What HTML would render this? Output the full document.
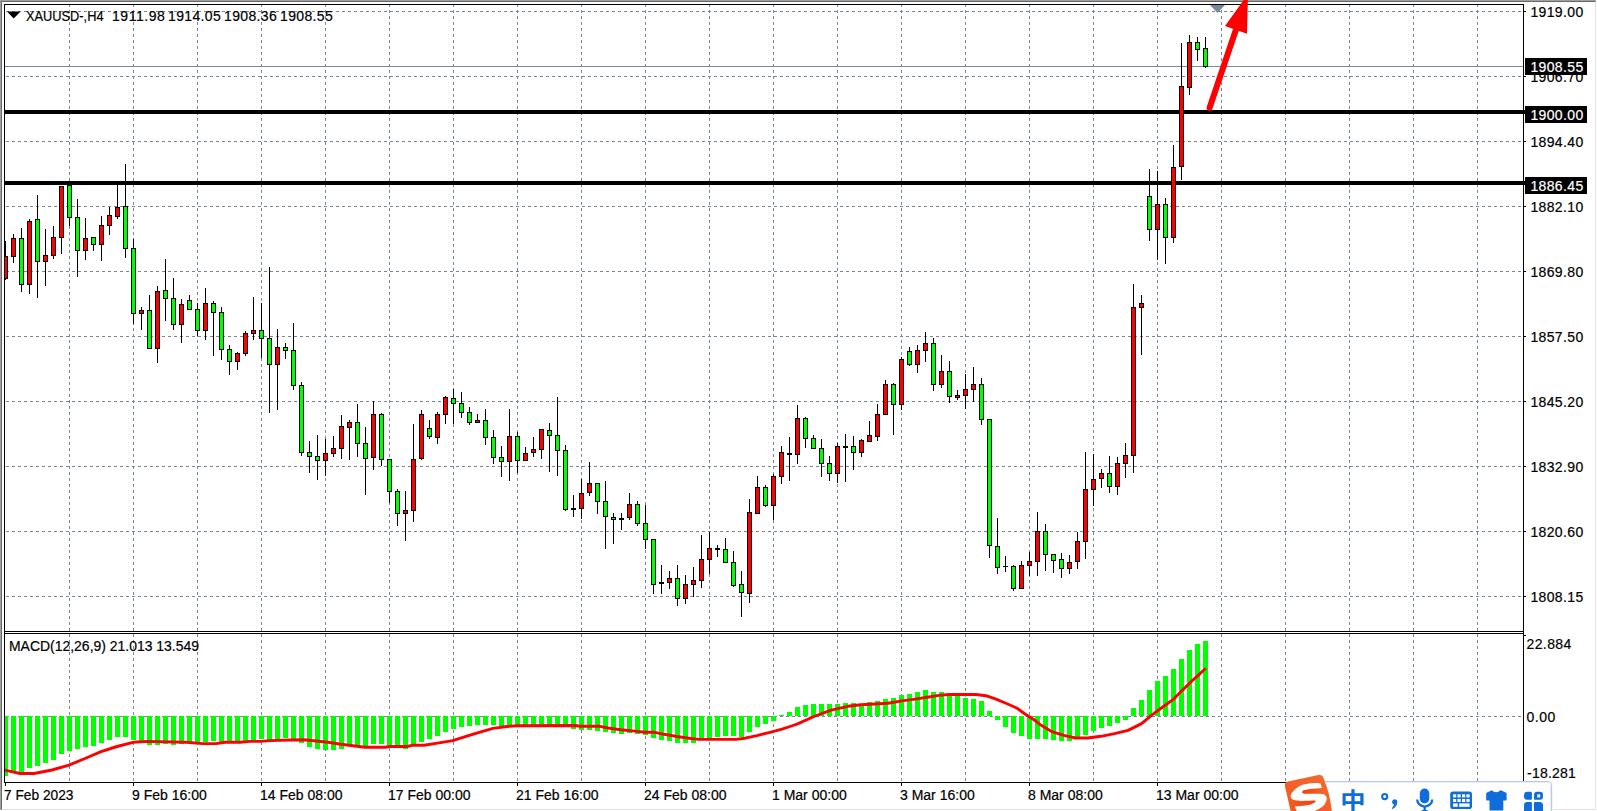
<!DOCTYPE html>
<html lang="en"><head><meta charset="utf-8"><title>XAUUSD-,H4</title>
<style>html,body{margin:0;padding:0;background:#fff}body{width:1597px;height:811px;overflow:hidden}svg{display:block}text{font-family:"Liberation Sans",Arial,sans-serif;font-size:14px}</style>
</head><body>
<svg width="1597" height="811" viewBox="0 0 1597 811">
<rect x="0" y="0" width="1597" height="811" fill="#ffffff"/>
<g shape-rendering="crispEdges">
<rect x="0" y="0" width="1596" height="1" fill="#a0a0a0"/>
<rect x="0" y="0" width="1" height="810" fill="#a0a0a0"/>
<rect x="1" y="1" width="1594" height="1" fill="#696969"/>
<rect x="1" y="1" width="1" height="808" fill="#696969"/>
<rect x="1" y="809" width="1" height="1" fill="#a0a0a0"/>
<rect x="1595" y="1" width="1" height="1" fill="#a0a0a0"/>
<rect x="1595" y="2" width="1" height="808" fill="#e3e3e3"/>
<rect x="2" y="809" width="1594" height="1" fill="#e3e3e3"/>
<g stroke="#778899" stroke-width="1" stroke-dasharray="3 3" fill="none">
<path d="M69.5 4V631M69.5 634V782"/>
<path d="M133.5 4V631M133.5 634V782"/>
<path d="M197.5 4V631M197.5 634V782"/>
<path d="M261.5 4V631M261.5 634V782"/>
<path d="M325.5 4V631M325.5 634V782"/>
<path d="M389.5 4V631M389.5 634V782"/>
<path d="M453.5 4V631M453.5 634V782"/>
<path d="M517.5 4V631M517.5 634V782"/>
<path d="M581.5 4V631M581.5 634V782"/>
<path d="M645.5 4V631M645.5 634V782"/>
<path d="M709.5 4V631M709.5 634V782"/>
<path d="M773.5 4V631M773.5 634V782"/>
<path d="M837.5 4V631M837.5 634V782"/>
<path d="M901.5 4V631M901.5 634V782"/>
<path d="M965.5 4V631M965.5 634V782"/>
<path d="M1029.5 4V631M1029.5 634V782"/>
<path d="M1093.5 4V631M1093.5 634V782"/>
<path d="M1157.5 4V631M1157.5 634V782"/>
<path d="M1221.5 4V631M1221.5 634V782"/>
<path d="M1285.5 4V631M1285.5 634V782"/>
<path d="M1349.5 4V631M1349.5 634V782"/>
<path d="M1413.5 4V631M1413.5 634V782"/>
<path d="M1477.5 4V631M1477.5 634V782"/>
<path d="M6 11.5H1523"/>
<path d="M6 76.5H1523"/>
<path d="M6 141.5H1523"/>
<path d="M6 206.5H1523"/>
<path d="M6 271.5H1523"/>
<path d="M6 336.5H1523"/>
<path d="M6 401.5H1523"/>
<path d="M6 466.5H1523"/>
<path d="M6 531.5H1523"/>
<path d="M6 596.5H1523"/>
<path d="M6 716.5H1523"/>
</g>
<rect x="5" y="66" width="1518" height="1" fill="#778899"/>
<rect x="5" y="110" width="1520" height="4" fill="#000"/>
<rect x="5" y="181" width="1520" height="4" fill="#000"/>
<g fill="#00ff00">
<rect x="3" y="716" width="5" height="60"/>
<rect x="11" y="716" width="5" height="56"/>
<rect x="19" y="716" width="5" height="57"/>
<rect x="27" y="716" width="5" height="52"/>
<rect x="35" y="716" width="5" height="50"/>
<rect x="43" y="716" width="5" height="47"/>
<rect x="51" y="716" width="5" height="44"/>
<rect x="59" y="716" width="5" height="38"/>
<rect x="67" y="716" width="5" height="35"/>
<rect x="75" y="716" width="5" height="33"/>
<rect x="83" y="716" width="5" height="31"/>
<rect x="91" y="716" width="5" height="30"/>
<rect x="99" y="716" width="5" height="27"/>
<rect x="107" y="716" width="5" height="24"/>
<rect x="115" y="716" width="5" height="21"/>
<rect x="123" y="716" width="5" height="21"/>
<rect x="131" y="716" width="5" height="24"/>
<rect x="139" y="716" width="5" height="26"/>
<rect x="147" y="716" width="5" height="29"/>
<rect x="155" y="716" width="5" height="29"/>
<rect x="163" y="716" width="5" height="28"/>
<rect x="171" y="716" width="5" height="29"/>
<rect x="179" y="716" width="5" height="28"/>
<rect x="187" y="716" width="5" height="26"/>
<rect x="195" y="716" width="5" height="26"/>
<rect x="203" y="716" width="5" height="26"/>
<rect x="211" y="716" width="5" height="25"/>
<rect x="219" y="716" width="5" height="26"/>
<rect x="227" y="716" width="5" height="25"/>
<rect x="235" y="716" width="5" height="25"/>
<rect x="243" y="716" width="5" height="25"/>
<rect x="251" y="716" width="5" height="25"/>
<rect x="259" y="716" width="5" height="23"/>
<rect x="267" y="716" width="5" height="24"/>
<rect x="275" y="716" width="5" height="23"/>
<rect x="283" y="716" width="5" height="22"/>
<rect x="291" y="716" width="5" height="23"/>
<rect x="299" y="716" width="5" height="27"/>
<rect x="307" y="716" width="5" height="31"/>
<rect x="315" y="716" width="5" height="33"/>
<rect x="323" y="716" width="5" height="34"/>
<rect x="331" y="716" width="5" height="34"/>
<rect x="339" y="716" width="5" height="33"/>
<rect x="347" y="716" width="5" height="30"/>
<rect x="355" y="716" width="5" height="31"/>
<rect x="363" y="716" width="5" height="31"/>
<rect x="371" y="716" width="5" height="28"/>
<rect x="379" y="716" width="5" height="28"/>
<rect x="387" y="716" width="5" height="31"/>
<rect x="395" y="716" width="5" height="31"/>
<rect x="403" y="716" width="5" height="33"/>
<rect x="411" y="716" width="5" height="30"/>
<rect x="419" y="716" width="5" height="26"/>
<rect x="427" y="716" width="5" height="23"/>
<rect x="435" y="716" width="5" height="20"/>
<rect x="443" y="716" width="5" height="16"/>
<rect x="451" y="716" width="5" height="13"/>
<rect x="459" y="716" width="5" height="11"/>
<rect x="467" y="716" width="5" height="10"/>
<rect x="475" y="716" width="5" height="9"/>
<rect x="483" y="716" width="5" height="9"/>
<rect x="491" y="716" width="5" height="9"/>
<rect x="499" y="716" width="5" height="10"/>
<rect x="507" y="716" width="5" height="9"/>
<rect x="515" y="716" width="5" height="9"/>
<rect x="523" y="716" width="5" height="9"/>
<rect x="531" y="716" width="5" height="9"/>
<rect x="539" y="716" width="5" height="9"/>
<rect x="547" y="716" width="5" height="9"/>
<rect x="555" y="716" width="5" height="9"/>
<rect x="563" y="716" width="5" height="9"/>
<rect x="571" y="716" width="5" height="13"/>
<rect x="579" y="716" width="5" height="14"/>
<rect x="587" y="716" width="5" height="14"/>
<rect x="595" y="716" width="5" height="15"/>
<rect x="603" y="716" width="5" height="16"/>
<rect x="611" y="716" width="5" height="17"/>
<rect x="619" y="716" width="5" height="18"/>
<rect x="627" y="716" width="5" height="17"/>
<rect x="635" y="716" width="5" height="18"/>
<rect x="643" y="716" width="5" height="19"/>
<rect x="651" y="716" width="5" height="22"/>
<rect x="659" y="716" width="5" height="24"/>
<rect x="667" y="716" width="5" height="25"/>
<rect x="675" y="716" width="5" height="27"/>
<rect x="683" y="716" width="5" height="27"/>
<rect x="691" y="716" width="5" height="27"/>
<rect x="699" y="716" width="5" height="23"/>
<rect x="707" y="716" width="5" height="22"/>
<rect x="715" y="716" width="5" height="21"/>
<rect x="723" y="716" width="5" height="20"/>
<rect x="731" y="716" width="5" height="20"/>
<rect x="739" y="716" width="5" height="21"/>
<rect x="747" y="716" width="5" height="16"/>
<rect x="755" y="716" width="5" height="11"/>
<rect x="763" y="716" width="5" height="8"/>
<rect x="771" y="716" width="5" height="5"/>
<rect x="779" y="715" width="5" height="1"/>
<rect x="787" y="712" width="5" height="4"/>
<rect x="795" y="707" width="5" height="9"/>
<rect x="803" y="705" width="5" height="11"/>
<rect x="811" y="704" width="5" height="12"/>
<rect x="819" y="704" width="5" height="12"/>
<rect x="827" y="704" width="5" height="12"/>
<rect x="835" y="704" width="5" height="12"/>
<rect x="843" y="703" width="5" height="13"/>
<rect x="851" y="703" width="5" height="13"/>
<rect x="859" y="704" width="5" height="12"/>
<rect x="867" y="702" width="5" height="14"/>
<rect x="875" y="701" width="5" height="15"/>
<rect x="883" y="699" width="5" height="17"/>
<rect x="891" y="698" width="5" height="18"/>
<rect x="899" y="695" width="5" height="21"/>
<rect x="907" y="694" width="5" height="22"/>
<rect x="915" y="692" width="5" height="24"/>
<rect x="923" y="690" width="5" height="26"/>
<rect x="931" y="692" width="5" height="24"/>
<rect x="939" y="692" width="5" height="24"/>
<rect x="947" y="694" width="5" height="22"/>
<rect x="955" y="695" width="5" height="21"/>
<rect x="963" y="698" width="5" height="18"/>
<rect x="971" y="699" width="5" height="17"/>
<rect x="979" y="701" width="5" height="15"/>
<rect x="987" y="711" width="5" height="5"/>
<rect x="995" y="716" width="5" height="4"/>
<rect x="1003" y="716" width="5" height="11"/>
<rect x="1011" y="716" width="5" height="17"/>
<rect x="1019" y="716" width="5" height="20"/>
<rect x="1027" y="716" width="5" height="23"/>
<rect x="1035" y="716" width="5" height="23"/>
<rect x="1043" y="716" width="5" height="23"/>
<rect x="1051" y="716" width="5" height="24"/>
<rect x="1059" y="716" width="5" height="25"/>
<rect x="1067" y="716" width="5" height="25"/>
<rect x="1075" y="716" width="5" height="22"/>
<rect x="1083" y="716" width="5" height="19"/>
<rect x="1091" y="716" width="5" height="15"/>
<rect x="1099" y="716" width="5" height="12"/>
<rect x="1107" y="716" width="5" height="10"/>
<rect x="1115" y="716" width="5" height="7"/>
<rect x="1123" y="716" width="5" height="4"/>
<rect x="1131" y="708" width="5" height="8"/>
<rect x="1139" y="700" width="5" height="16"/>
<rect x="1147" y="690" width="5" height="26"/>
<rect x="1155" y="681" width="5" height="35"/>
<rect x="1163" y="676" width="5" height="40"/>
<rect x="1171" y="669" width="5" height="47"/>
<rect x="1179" y="659" width="5" height="57"/>
<rect x="1187" y="650" width="5" height="66"/>
<rect x="1195" y="644" width="5" height="72"/>
<rect x="1203" y="641" width="5" height="75"/>
</g>
<path d="M5.5 241V280M13.5 234V263M21.5 228V292M29.5 219V294M37.5 195V298M45.5 229V286M53.5 226V259M61.5 186V254M69.5 185V226M77.5 199V277M85.5 218V260M93.5 237V251M101.5 216V261M109.5 207V235M117.5 182V219M125.5 164V258M133.5 239V324M141.5 307V330M149.5 295V349M157.5 286V363M165.5 259V321M173.5 278V330M181.5 299V343M189.5 295V310M197.5 303V336M205.5 288V340M213.5 301V356M221.5 307V360M229.5 345V375M237.5 352V370M245.5 331V356M253.5 297V340M261.5 303V358M269.5 267V413M277.5 329V410M285.5 343V359M293.5 323V390M301.5 382V456M309.5 441V473M317.5 435V480M325.5 439V476M333.5 436V457M341.5 415V459M349.5 420V460M357.5 404V457M365.5 427V495M373.5 401V470M381.5 413V466M389.5 460V503M397.5 489V526M405.5 491V541M413.5 424V522M421.5 410V460M429.5 420V439M437.5 412V444M445.5 396V424M453.5 389V424M461.5 392V418M469.5 407V425M477.5 414V423M485.5 409V445M493.5 430V464M501.5 446V477M509.5 409V481M517.5 432V473M525.5 447V461M533.5 437V457M541.5 430V459M549.5 423V472M557.5 397V476M565.5 445V511M573.5 495V517M581.5 479V519M589.5 462V496M597.5 484V514M605.5 481V549M613.5 513V544M621.5 513V530M629.5 493V520M637.5 501V526M645.5 505V549M653.5 540V594M661.5 565V594M669.5 571V589M677.5 565V606M685.5 575V604M693.5 567V597M701.5 535V588M709.5 532V574M717.5 545V557M725.5 538V562M733.5 551V587M741.5 571V617M749.5 499V603M757.5 476V513M765.5 485V507M773.5 474V520M781.5 446V484M789.5 437V481M797.5 405V464M805.5 417V448M813.5 435V449M821.5 439V477M829.5 456V481M837.5 443V483M845.5 434V482M853.5 436V470M861.5 439V457M869.5 421V442M877.5 404V441M885.5 380V415M893.5 383V435M901.5 357V410M909.5 347V366M917.5 345V373M925.5 332V362M933.5 338V391M941.5 355V388M949.5 361V403M957.5 390V400M965.5 374V409M973.5 367V402M981.5 378V425M989.5 419V558M997.5 518V574M1005.5 556V572M1013.5 565V591M1021.5 561V589M1029.5 552V576M1037.5 512V576M1045.5 524V571M1053.5 555V573M1061.5 553V578M1069.5 555V574M1077.5 532V569M1085.5 452V559M1093.5 454V506M1101.5 469V488M1109.5 456V493M1117.5 457V495M1125.5 443V478M1133.5 284V473M1141.5 295V355M1149.5 169V241M1157.5 171V260M1165.5 198V264M1173.5 145V243M1181.5 43V180M1189.5 35V95M1197.5 37V61M1205.5 37V68" stroke="#000" stroke-width="1" fill="none"/>
<g fill="#000"><rect x="3" y="256" width="5" height="23"/><rect x="11" y="238" width="5" height="19"/><rect x="19" y="238" width="5" height="47"/><rect x="27" y="221" width="5" height="64"/><rect x="35" y="219" width="5" height="43"/><rect x="43" y="255" width="5" height="7"/><rect x="51" y="237" width="5" height="19"/><rect x="59" y="186" width="5" height="52"/><rect x="67" y="185" width="5" height="33"/><rect x="75" y="217" width="5" height="34"/><rect x="83" y="238" width="5" height="13"/><rect x="91" y="237" width="5" height="8"/><rect x="99" y="225" width="5" height="20"/><rect x="107" y="215" width="5" height="11"/><rect x="115" y="207" width="5" height="10"/><rect x="123" y="206" width="5" height="43"/><rect x="131" y="248" width="5" height="66"/><rect x="139" y="310" width="5" height="4"/><rect x="147" y="310" width="5" height="39"/><rect x="155" y="291" width="5" height="58"/><rect x="163" y="290" width="5" height="9"/><rect x="171" y="298" width="5" height="27"/><rect x="179" y="304" width="5" height="21"/><rect x="187" y="300" width="5" height="10"/><rect x="195" y="309" width="5" height="22"/><rect x="203" y="303" width="5" height="28"/><rect x="211" y="303" width="5" height="10"/><rect x="219" y="312" width="5" height="38"/><rect x="227" y="349" width="5" height="13"/><rect x="235" y="353" width="5" height="9"/><rect x="243" y="333" width="5" height="21"/><rect x="251" y="330" width="5" height="4"/><rect x="259" y="330" width="5" height="9"/><rect x="267" y="338" width="5" height="27"/><rect x="275" y="347" width="5" height="18"/><rect x="283" y="347" width="5" height="4"/><rect x="291" y="350" width="5" height="36"/><rect x="299" y="385" width="5" height="68"/><rect x="307" y="452" width="5" height="5"/><rect x="315" y="456" width="5" height="5"/><rect x="323" y="453" width="5" height="8"/><rect x="331" y="448" width="5" height="6"/><rect x="339" y="426" width="5" height="23"/><rect x="347" y="422" width="5" height="6"/><rect x="355" y="422" width="5" height="22"/><rect x="363" y="443" width="5" height="16"/><rect x="371" y="414" width="5" height="44"/><rect x="379" y="414" width="5" height="46"/><rect x="387" y="459" width="5" height="33"/><rect x="395" y="491" width="5" height="23"/><rect x="403" y="510" width="5" height="4"/><rect x="411" y="459" width="5" height="52"/><rect x="419" y="414" width="5" height="45"/><rect x="427" y="428" width="5" height="9"/><rect x="435" y="414" width="5" height="24"/><rect x="443" y="397" width="5" height="18"/><rect x="451" y="398" width="5" height="6"/><rect x="459" y="403" width="5" height="10"/><rect x="467" y="412" width="5" height="11"/><rect x="475" y="420" width="5" height="3"/><rect x="483" y="420" width="5" height="18"/><rect x="491" y="437" width="5" height="21"/><rect x="499" y="457" width="5" height="5"/><rect x="507" y="436" width="5" height="26"/><rect x="515" y="436" width="5" height="25"/><rect x="523" y="453" width="5" height="8"/><rect x="531" y="449" width="5" height="4"/><rect x="539" y="429" width="5" height="21"/><rect x="547" y="430" width="5" height="6"/><rect x="555" y="435" width="5" height="16"/><rect x="563" y="450" width="5" height="60"/><rect x="571" y="508" width="5" height="2"/><rect x="579" y="493" width="5" height="16"/><rect x="587" y="483" width="5" height="10"/><rect x="595" y="483" width="5" height="19"/><rect x="603" y="501" width="5" height="16"/><rect x="611" y="517" width="5" height="3"/><rect x="619" y="518" width="5" height="2"/><rect x="627" y="504" width="5" height="14"/><rect x="635" y="504" width="5" height="20"/><rect x="643" y="523" width="5" height="17"/><rect x="651" y="539" width="5" height="46"/><rect x="659" y="582" width="5" height="2"/><rect x="667" y="578" width="5" height="5"/><rect x="675" y="578" width="5" height="21"/><rect x="683" y="584" width="5" height="15"/><rect x="691" y="580" width="5" height="5"/><rect x="699" y="559" width="5" height="22"/><rect x="707" y="548" width="5" height="12"/><rect x="715" y="548" width="5" height="2"/><rect x="723" y="549" width="5" height="14"/><rect x="731" y="562" width="5" height="24"/><rect x="739" y="584" width="5" height="9"/><rect x="747" y="512" width="5" height="82"/><rect x="755" y="487" width="5" height="27"/><rect x="763" y="487" width="5" height="19"/><rect x="771" y="476" width="5" height="30"/><rect x="779" y="452" width="5" height="25"/><rect x="787" y="453" width="5" height="2"/><rect x="795" y="418" width="5" height="37"/><rect x="803" y="418" width="5" height="21"/><rect x="811" y="438" width="5" height="11"/><rect x="819" y="448" width="5" height="16"/><rect x="827" y="463" width="5" height="11"/><rect x="835" y="446" width="5" height="28"/><rect x="843" y="446" width="5" height="2"/><rect x="851" y="446" width="5" height="7"/><rect x="859" y="440" width="5" height="13"/><rect x="867" y="435" width="5" height="7"/><rect x="875" y="414" width="5" height="23"/><rect x="883" y="384" width="5" height="31"/><rect x="891" y="384" width="5" height="21"/><rect x="899" y="359" width="5" height="46"/><rect x="907" y="351" width="5" height="14"/><rect x="915" y="350" width="5" height="15"/><rect x="923" y="343" width="5" height="8"/><rect x="931" y="343" width="5" height="42"/><rect x="939" y="371" width="5" height="14"/><rect x="947" y="371" width="5" height="26"/><rect x="955" y="395" width="5" height="3"/><rect x="963" y="389" width="5" height="7"/><rect x="971" y="384" width="5" height="6"/><rect x="979" y="384" width="5" height="36"/><rect x="987" y="419" width="5" height="127"/><rect x="995" y="546" width="5" height="22"/><rect x="1003" y="566" width="5" height="1"/><rect x="1011" y="566" width="5" height="23"/><rect x="1019" y="565" width="5" height="24"/><rect x="1027" y="561" width="5" height="5"/><rect x="1035" y="531" width="5" height="31"/><rect x="1043" y="531" width="5" height="24"/><rect x="1051" y="554" width="5" height="7"/><rect x="1059" y="559" width="5" height="10"/><rect x="1067" y="562" width="5" height="7"/><rect x="1075" y="541" width="5" height="21"/><rect x="1083" y="489" width="5" height="53"/><rect x="1091" y="479" width="5" height="11"/><rect x="1099" y="473" width="5" height="6"/><rect x="1107" y="473" width="5" height="14"/><rect x="1115" y="463" width="5" height="24"/><rect x="1123" y="455" width="5" height="9"/><rect x="1131" y="307" width="5" height="149"/><rect x="1139" y="303" width="5" height="5"/><rect x="1147" y="196" width="5" height="34"/><rect x="1155" y="204" width="5" height="26"/><rect x="1163" y="204" width="5" height="34"/><rect x="1171" y="167" width="5" height="71"/><rect x="1179" y="86" width="5" height="81"/><rect x="1187" y="42" width="5" height="46"/><rect x="1195" y="42" width="5" height="8"/><rect x="1203" y="48" width="5" height="19"/></g>
<g fill="#ff0000"><rect x="4" y="257" width="3" height="21"/><rect x="12" y="239" width="3" height="17"/><rect x="28" y="222" width="3" height="62"/><rect x="44" y="256" width="3" height="5"/><rect x="52" y="238" width="3" height="17"/><rect x="60" y="187" width="3" height="50"/><rect x="84" y="239" width="3" height="11"/><rect x="100" y="226" width="3" height="18"/><rect x="108" y="216" width="3" height="9"/><rect x="116" y="208" width="3" height="8"/><rect x="140" y="311" width="3" height="2"/><rect x="156" y="292" width="3" height="56"/><rect x="180" y="305" width="3" height="19"/><rect x="204" y="304" width="3" height="26"/><rect x="236" y="354" width="3" height="7"/><rect x="244" y="334" width="3" height="19"/><rect x="252" y="331" width="3" height="2"/><rect x="276" y="348" width="3" height="16"/><rect x="324" y="454" width="3" height="6"/><rect x="332" y="449" width="3" height="4"/><rect x="340" y="427" width="3" height="21"/><rect x="348" y="423" width="3" height="4"/><rect x="372" y="415" width="3" height="42"/><rect x="404" y="511" width="3" height="2"/><rect x="412" y="460" width="3" height="50"/><rect x="420" y="415" width="3" height="43"/><rect x="436" y="415" width="3" height="22"/><rect x="444" y="398" width="3" height="16"/><rect x="476" y="421" width="3" height="1"/><rect x="508" y="437" width="3" height="24"/><rect x="524" y="454" width="3" height="6"/><rect x="532" y="450" width="3" height="2"/><rect x="540" y="430" width="3" height="19"/><rect x="580" y="494" width="3" height="14"/><rect x="588" y="484" width="3" height="8"/><rect x="628" y="505" width="3" height="12"/><rect x="668" y="579" width="3" height="3"/><rect x="684" y="585" width="3" height="13"/><rect x="692" y="581" width="3" height="3"/><rect x="700" y="560" width="3" height="20"/><rect x="708" y="549" width="3" height="10"/><rect x="748" y="513" width="3" height="80"/><rect x="756" y="488" width="3" height="25"/><rect x="772" y="477" width="3" height="28"/><rect x="780" y="453" width="3" height="23"/><rect x="796" y="419" width="3" height="35"/><rect x="836" y="447" width="3" height="26"/><rect x="860" y="441" width="3" height="11"/><rect x="868" y="436" width="3" height="5"/><rect x="876" y="415" width="3" height="21"/><rect x="884" y="385" width="3" height="29"/><rect x="900" y="360" width="3" height="44"/><rect x="916" y="351" width="3" height="13"/><rect x="924" y="344" width="3" height="6"/><rect x="940" y="372" width="3" height="12"/><rect x="956" y="396" width="3" height="1"/><rect x="964" y="390" width="3" height="5"/><rect x="972" y="385" width="3" height="4"/><rect x="1020" y="566" width="3" height="22"/><rect x="1028" y="562" width="3" height="3"/><rect x="1036" y="532" width="3" height="29"/><rect x="1068" y="563" width="3" height="5"/><rect x="1076" y="542" width="3" height="19"/><rect x="1084" y="490" width="3" height="51"/><rect x="1092" y="480" width="3" height="9"/><rect x="1100" y="474" width="3" height="4"/><rect x="1116" y="464" width="3" height="22"/><rect x="1124" y="456" width="3" height="7"/><rect x="1132" y="308" width="3" height="147"/><rect x="1140" y="304" width="3" height="3"/><rect x="1156" y="205" width="3" height="24"/><rect x="1172" y="168" width="3" height="69"/><rect x="1180" y="87" width="3" height="79"/><rect x="1188" y="43" width="3" height="44"/></g>
<g fill="#00ff00"><rect x="20" y="239" width="3" height="45"/><rect x="36" y="220" width="3" height="41"/><rect x="68" y="186" width="3" height="31"/><rect x="76" y="218" width="3" height="32"/><rect x="92" y="238" width="3" height="6"/><rect x="124" y="207" width="3" height="41"/><rect x="132" y="249" width="3" height="64"/><rect x="148" y="311" width="3" height="37"/><rect x="164" y="291" width="3" height="7"/><rect x="172" y="299" width="3" height="25"/><rect x="188" y="301" width="3" height="8"/><rect x="196" y="310" width="3" height="20"/><rect x="212" y="304" width="3" height="8"/><rect x="220" y="313" width="3" height="36"/><rect x="228" y="350" width="3" height="11"/><rect x="260" y="331" width="3" height="7"/><rect x="268" y="339" width="3" height="25"/><rect x="284" y="348" width="3" height="2"/><rect x="292" y="351" width="3" height="34"/><rect x="300" y="386" width="3" height="66"/><rect x="308" y="453" width="3" height="3"/><rect x="316" y="457" width="3" height="3"/><rect x="356" y="423" width="3" height="20"/><rect x="364" y="444" width="3" height="14"/><rect x="380" y="415" width="3" height="44"/><rect x="388" y="460" width="3" height="31"/><rect x="396" y="492" width="3" height="21"/><rect x="428" y="429" width="3" height="7"/><rect x="452" y="399" width="3" height="4"/><rect x="460" y="404" width="3" height="8"/><rect x="468" y="413" width="3" height="9"/><rect x="484" y="421" width="3" height="16"/><rect x="492" y="438" width="3" height="19"/><rect x="500" y="458" width="3" height="3"/><rect x="516" y="437" width="3" height="23"/><rect x="548" y="431" width="3" height="4"/><rect x="556" y="436" width="3" height="14"/><rect x="564" y="451" width="3" height="58"/><rect x="596" y="484" width="3" height="17"/><rect x="604" y="502" width="3" height="14"/><rect x="612" y="518" width="3" height="1"/><rect x="636" y="505" width="3" height="18"/><rect x="644" y="524" width="3" height="15"/><rect x="652" y="540" width="3" height="44"/><rect x="676" y="579" width="3" height="19"/><rect x="724" y="550" width="3" height="12"/><rect x="732" y="563" width="3" height="22"/><rect x="740" y="585" width="3" height="7"/><rect x="764" y="488" width="3" height="17"/><rect x="804" y="419" width="3" height="19"/><rect x="812" y="439" width="3" height="9"/><rect x="820" y="449" width="3" height="14"/><rect x="828" y="464" width="3" height="9"/><rect x="852" y="447" width="3" height="5"/><rect x="892" y="385" width="3" height="19"/><rect x="908" y="352" width="3" height="12"/><rect x="932" y="344" width="3" height="40"/><rect x="948" y="372" width="3" height="24"/><rect x="980" y="385" width="3" height="34"/><rect x="988" y="420" width="3" height="125"/><rect x="996" y="547" width="3" height="20"/><rect x="1012" y="567" width="3" height="21"/><rect x="1044" y="532" width="3" height="22"/><rect x="1052" y="555" width="3" height="5"/><rect x="1060" y="560" width="3" height="8"/><rect x="1108" y="474" width="3" height="12"/><rect x="1148" y="197" width="3" height="32"/><rect x="1164" y="205" width="3" height="32"/><rect x="1196" y="43" width="3" height="6"/><rect x="1204" y="49" width="3" height="17"/></g>
<rect x="2" y="4" width="2" height="780" fill="#fff"/>
<g fill="#000">
<rect x="4" y="4" width="1520" height="1"/>
<rect x="4" y="4" width="1" height="779"/>
<rect x="1523" y="4" width="1" height="779"/>
<rect x="4" y="631" width="1520" height="1"/>
<rect x="4" y="633" width="1520" height="1"/>
<rect x="4" y="782" width="1520" height="1"/>
</g>
<rect x="5" y="632" width="1518" height="1" fill="#fff"/>
<g fill="#000">
<rect x="1524" y="11" width="2" height="1"/>
<rect x="1524" y="76" width="2" height="1"/>
<rect x="1524" y="141" width="2" height="1"/>
<rect x="1524" y="206" width="2" height="1"/>
<rect x="1524" y="271" width="2" height="1"/>
<rect x="1524" y="336" width="2" height="1"/>
<rect x="1524" y="401" width="2" height="1"/>
<rect x="1524" y="466" width="2" height="1"/>
<rect x="1524" y="531" width="2" height="1"/>
<rect x="1524" y="596" width="2" height="1"/>
<rect x="1524" y="635" width="2" height="1"/>
<rect x="5" y="783" width="1" height="3"/>
<rect x="133" y="783" width="1" height="3"/>
<rect x="261" y="783" width="1" height="3"/>
<rect x="389" y="783" width="1" height="3"/>
<rect x="517" y="783" width="1" height="3"/>
<rect x="645" y="783" width="1" height="3"/>
<rect x="773" y="783" width="1" height="3"/>
<rect x="901" y="783" width="1" height="3"/>
<rect x="1029" y="783" width="1" height="3"/>
<rect x="1157" y="783" width="1" height="3"/>
</g>
<rect x="1525" y="58" width="62" height="17" fill="#000"/>
<rect x="1525" y="106" width="62" height="17" fill="#000"/>
<rect x="1525" y="177" width="62" height="17" fill="#000"/>
</g>
<polyline fill="none" stroke="#ff0000" stroke-width="2.9" stroke-linejoin="round" stroke-linecap="butt" points="5,770.2 20,773.5 34,773.5 52,770 69,765.1 85,758.5 101,751.6 117,746.5 133,742.3 147,741.4 186,742.3 203,743.6 216,743.6 225,742.3 240,742.3 250,741.4 260,741.4 270,740.6 290,740 304,739.7 316,741 328,742.3 341,744.3 355,746 365,747.3 385,747.3 390,746.5 407,746.5 412,745.3 424,745.3 437.5,743.1 452.7,740.6 466,736.3 480,732.1 493,728.4 507,726.5 517,725.7 576,725.5 580,726.3 600,726.3 608,728 621,729.7 635,731.1 645,732.3 655,732.3 664,734.3 677,736.5 689,738.2 699,739.4 736,739.4 745,738.2 757,735.6 770,732.3 782,729.2 790,726.5 797,724.1 814,716.5 831,710.1 848,706.3 861,704.7 888,703.3 902,700.9 915,699.1 929,697 939,695.4 949,694.5 976,694.5 986,695.7 996,699.1 1006.5,703.5 1016.7,708 1025,714 1033.6,719.5 1040,724.4 1052,731.7 1064,735.4 1075.6,738 1087.5,738 1101,736.3 1114.5,733.7 1128,730.4 1141.6,723.6 1151.7,715.1 1162,707.5 1173.7,699.1 1182,690.6 1190.6,682.2 1199,674.6 1205.8,668.2"/>
<path d="M7 11.5H20.5L13.75 18.5Z" fill="#000"/>
<path d="M1210 5H1225L1217.5 13Z" fill="#778899"/>
<g fill="#000" stroke="#000" stroke-width="0.2">
<text x="26" y="21" textLength="77.5" lengthAdjust="spacingAndGlyphs">XAUUSD-,H4</text>
<text x="112" y="21" textLength="52.8" lengthAdjust="spacing">1911.98</text>
<text x="168" y="21" textLength="52.8" lengthAdjust="spacing">1914.05</text>
<text x="224" y="21" textLength="52.8" lengthAdjust="spacing">1908.36</text>
<text x="280" y="21" textLength="52.8" lengthAdjust="spacing">1908.55</text>
<text x="9" y="651" textLength="190" lengthAdjust="spacingAndGlyphs">MACD(12,26,9) 21.013 13.549</text>
<text x="1530.4" y="17" textLength="52.8" lengthAdjust="spacing">1919.00</text>
<text x="1530.4" y="82" textLength="52.8" lengthAdjust="spacing">1906.70</text>
<text x="1530.4" y="147" textLength="52.8" lengthAdjust="spacing">1894.40</text>
<text x="1530.4" y="212" textLength="52.8" lengthAdjust="spacing">1882.10</text>
<text x="1530.4" y="277" textLength="52.8" lengthAdjust="spacing">1869.80</text>
<text x="1530.4" y="342" textLength="52.8" lengthAdjust="spacing">1857.50</text>
<text x="1530.4" y="407" textLength="52.8" lengthAdjust="spacing">1845.20</text>
<text x="1530.4" y="472" textLength="52.8" lengthAdjust="spacing">1832.90</text>
<text x="1530.4" y="537" textLength="52.8" lengthAdjust="spacing">1820.60</text>
<text x="1530.4" y="602" textLength="52.8" lengthAdjust="spacing">1808.15</text>
<text x="1526.5" y="649" textLength="44.8" lengthAdjust="spacing">22.884</text>
<text x="1526.5" y="722" textLength="28.8" lengthAdjust="spacing">0.00</text>
<text x="1527" y="778" textLength="48.8" lengthAdjust="spacing">-18.281</text>
<text x="4" y="800" textLength="69.5" lengthAdjust="spacingAndGlyphs">7 Feb 2023</text>
<text x="132" y="800">9 Feb 16:00</text>
<text x="260" y="800">14 Feb 08:00</text>
<text x="388" y="800">17 Feb 00:00</text>
<text x="516" y="800">21 Feb 16:00</text>
<text x="644" y="800">24 Feb 08:00</text>
<text x="772" y="800">1 Mar 00:00</text>
<text x="900" y="800">3 Mar 16:00</text>
<text x="1028" y="800">8 Mar 08:00</text>
<text x="1156" y="800">13 Mar 00:00</text>
</g>
<g fill="#fff" stroke="#fff" stroke-width="0.2">
<text x="1530.4" y="72" textLength="52.8" lengthAdjust="spacing">1908.55</text>
<text x="1530.4" y="120" textLength="52.8" lengthAdjust="spacing">1900.00</text>
<text x="1530.4" y="191" textLength="52.8" lengthAdjust="spacing">1886.45</text>
</g>
<g>
<line x1="1209.6" y1="107.8" x2="1235.5" y2="31" stroke="#ff0000" stroke-width="6" stroke-linecap="round"/>
<path d="M1225 25.9L1247 33.8L1248 -6Z" fill="#ff0000"/>
</g>
<g>
<defs><linearGradient id="sg" x1="1" y1="0" x2="0" y2="1"><stop offset="0" stop-color="#f56a33"/><stop offset="1" stop-color="#f2561d"/></linearGradient></defs>
<rect x="1296.5" y="781.5" width="255" height="40" rx="3" ry="3" fill="#fff" stroke="#b9cbe6" stroke-width="1"/>
<rect x="1297.5" y="782.5" width="253" height="40" rx="2" ry="2" fill="none" stroke="#e9eff7" stroke-width="1"/>
<rect x="1552" y="785" width="1" height="26" fill="#f3f5f9"/>
<path d="M1285.0 786.4Q1284.1 782.4 1288.0 781.6L1318.4 775.1Q1322.4 774.3 1323.6 778.2Q1330.6 795 1332.3 815L1291.6 815Z" fill="url(#sg)"/>
<defs><linearGradient id="c1" x1="0" y1="0" x2="1" y2="0"><stop offset="0.1" stop-color="#f43a06" stop-opacity="0.9"/><stop offset="0.95" stop-color="#f43a06" stop-opacity="0"/></linearGradient><linearGradient id="c2" x1="1" y1="0" x2="0" y2="0"><stop offset="0.1" stop-color="#f43a06" stop-opacity="0.9"/><stop offset="1" stop-color="#f43a06" stop-opacity="0.1"/></linearGradient></defs>
<path d="M1300 786L1323 783L1324 797L1302 797Z" fill="url(#c1)"/>
<path d="M1292.5 798L1318 799L1316 808L1294.5 808Z" fill="url(#c2)"/>
<path d="M1320.44 783.25C1318.76 783.25 1313.70 782.85 1310.33 783.25C1306.96 783.65 1302.91 784.51 1300.22 785.67C1297.53 786.83 1295.72 788.70 1294.16 790.22C1292.60 791.74 1291.33 793.42 1290.87 794.77C1290.41 796.12 1290.66 797.38 1291.38 798.31C1292.10 799.24 1293.53 799.89 1295.17 800.33C1296.81 800.77 1299.09 800.86 1301.23 800.94C1303.37 801.02 1305.72 800.86 1308.00 800.80C1310.28 800.74 1313.73 800.62 1314.88 800.59C1315.02 800.71 1315.68 801.03 1315.70 801.30C1315.72 801.57 1315.89 801.69 1315.00 802.20C1314.11 802.71 1312.37 803.81 1310.33 804.38C1308.29 804.95 1305.36 805.32 1302.75 805.64C1300.14 805.96 1296.01 806.19 1294.66 806.30L1298.5 815L1312 815C1312.48 814.33 1313.47 812.18 1314.88 811.00C1316.29 809.82 1318.84 809.02 1320.44 807.92C1322.04 806.82 1323.43 805.81 1324.49 804.38C1325.55 802.95 1326.52 800.67 1326.77 799.32C1327.02 797.97 1326.55 797.13 1326.00 796.29C1325.45 795.45 1324.58 794.71 1323.48 794.27C1322.38 793.83 1321.62 793.75 1319.43 793.66C1317.24 793.57 1312.86 793.76 1310.33 793.76C1307.80 793.76 1305.59 793.84 1304.27 793.66C1302.95 793.48 1302.74 793.02 1302.40 792.70C1302.06 792.38 1302.19 792.04 1302.24 791.74C1302.29 791.44 1302.45 791.15 1302.70 790.90C1302.95 790.65 1302.49 790.54 1303.76 790.22C1305.03 789.90 1307.30 789.34 1310.33 788.96C1313.36 788.58 1320.02 788.12 1321.96 787.95Z" fill="#fff"/>
<text transform="translate(1340.3 809) scale(1.1 1)" x="0" y="0" style="font-family:'Liberation Sans','Noto Sans CJK SC',sans-serif;font-size:23px;font-weight:700" fill="#0f6ddb">中</text>
<circle cx="1384.7" cy="796.6" r="2.55" fill="none" stroke="#0f6ddb" stroke-width="2.1"/>
<path d="M1394.6 799.3a2.7 2.7 0 0 1 2.7 2.7c0 3 -1.9 5.6 -4.6 7.1l-1 -0.9c1.3 -1.2 2.1 -2.4 2.3 -3.6a2.7 2.7 0 0 1 0.6 -5.3z" fill="#0f6ddb"/>
<rect x="1419.8" y="788.6" width="9.5" height="14.7" rx="4.75" ry="4.75" fill="#0f6ddb"/>
<path d="M1417.2 799.4a7.5 7.15 0 0 0 15 0" fill="none" stroke="#0f6ddb" stroke-width="2.3"/>
<rect x="1423.55" y="807" width="2.3" height="4" fill="#0f6ddb"/>
<rect x="1421.7" y="810" width="6" height="2" fill="#0f6ddb"/>
<rect x="1450.2" y="791.6" width="21.8" height="17.5" rx="2.8" ry="2.8" fill="#0f6ddb"/>
<g fill="#fff">
<rect x="1453" y="794.3" width="3.2" height="3.1"/>
<rect x="1457.5" y="794.3" width="3.2" height="3.1"/>
<rect x="1462" y="794.3" width="3.2" height="3.1"/>
<rect x="1466.4" y="794.3" width="3.2" height="3.1"/>
<rect x="1453" y="798.9" width="3.2" height="3.1"/>
<rect x="1457.5" y="798.9" width="3.2" height="3.1"/>
<rect x="1462" y="798.9" width="3.2" height="3.1"/>
<rect x="1466.4" y="798.9" width="3.2" height="3.1"/>
<rect x="1453.0" y="803.4" width="4.7" height="3.4"/>
<rect x="1459.1" y="803.4" width="10.5" height="3.4"/>
</g>
<path d="M1491.6 791c1.7 2.6 7.3 2.6 9 0l5.3 2.4v6.3h-3.3v10.2h-12.4v-10.2h-3.3v-6.3z" fill="#0f6ddb" stroke="#0f6ddb" stroke-width="1.4" stroke-linejoin="round"/>
<path d="M1527.4 791.8H1530.7A1.2 1.2 0 0 1 1531.9 793V799A0.8 0.8 0 0 1 1531.1 799.8H1527A3 3 0 0 1 1524 796.8V795.2A3.4 3.4 0 0 1 1527.4 791.8ZM1537 791.8H1540A3 3 0 0 1 1543 794.8V796.8A3 3 0 0 1 1540 799.8H1534.8A0.8 0.8 0 0 1 1534 799V794.8A3 3 0 0 1 1537 791.8ZM1527 802H1531.1A0.8 0.8 0 0 1 1531.9 802.8V813A1 1 0 0 1 1530.9 814H1527A3 3 0 0 1 1524 811V805A3 3 0 0 1 1527 802ZM1534.8 802H1539.6A3.4 3.4 0 0 1 1543 805.4V811A3 3 0 0 1 1540 814H1535A1 1 0 0 1 1534 813V802.8A0.8 0.8 0 0 1 1534.8 802Z" fill="#0f6ddb"/>
<rect x="1537.2" y="794.4" width="3.0" height="3.0" fill="#fff"/>
</g>
</svg>
</body></html>
